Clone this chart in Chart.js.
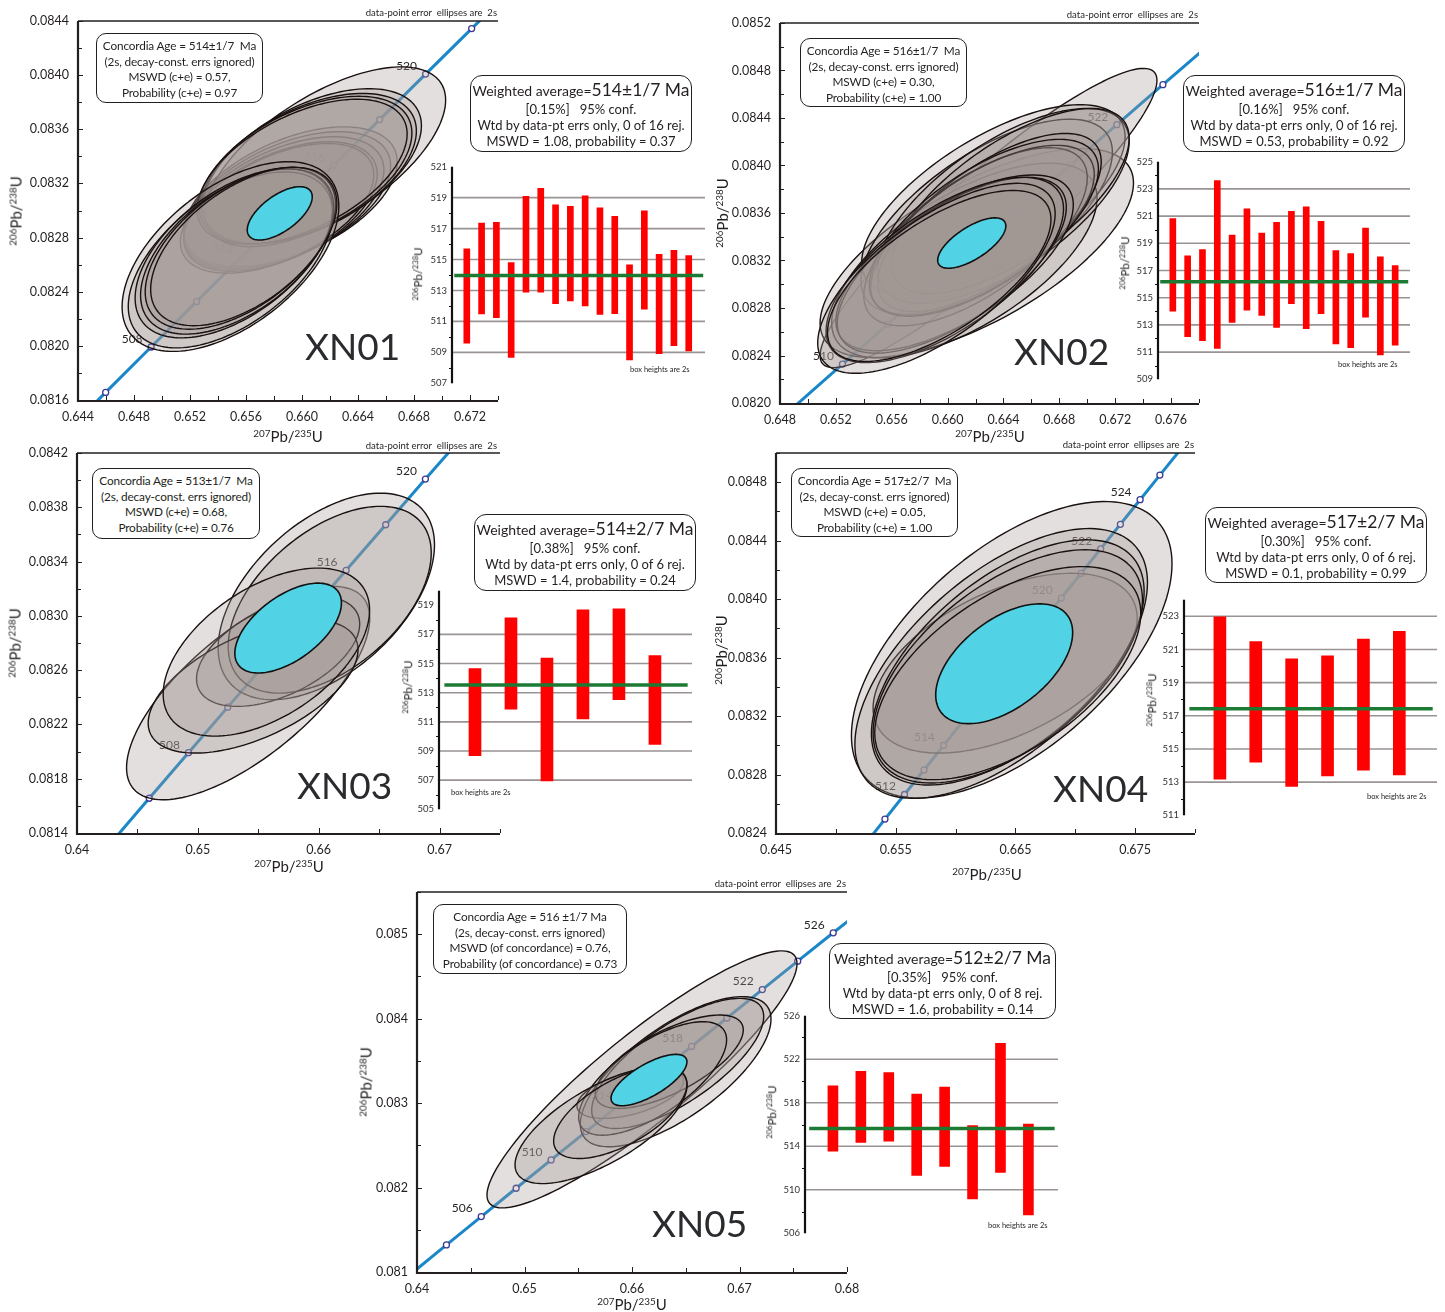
<!DOCTYPE html>
<html lang="en">
<head>
<meta charset="utf-8">
<title>U–Pb concordia and weighted-average diagrams, XN01–XN05</title>
<script src="https://cdn.jsdelivr.net/npm/chart.js@4.4.1/dist/chart.umd.min.js"></script>
<style>
  html, body { margin:0; padding:0; background:#fff; }
  body { position:relative; width:1445px; height:1312px; overflow:hidden;
         font-family: Lato, "Open Sans", "DejaVu Sans", sans-serif; color:#231f20; }
  canvas { position:absolute; }
  .t { position:absolute; white-space:nowrap; line-height:1; }
  .box { position:absolute; box-sizing:border-box; border:1.4px solid #231f20; border-radius:10px;
         background:#fff; text-align:center; white-space:pre; }
  .sup { font-size:0.66em; position:relative; top:-0.5em; }
</style>
</head>
<body>
<script>
// ---------- decay constants (per Myr) ----------
const L238 = 1.55125e-4;
const L235 = 9.8485e-4;
const r68 = t => Math.expm1(L238 * t);
const r75 = t => Math.expm1(L235 * t);

// ---------- concordia axis tick labels ----------
const xTicks01 = ['0.644','0.648','0.652','0.656','0.660','0.664','0.668','0.672'];
const yTicks01 = ['0.0816','0.0820','0.0824','0.0828','0.0832','0.0836','0.0840','0.0844'];
const xTicks02 = ['0.648','0.652','0.656','0.660','0.664','0.668','0.672','0.676'];
const yTicks02 = ['0.0820','0.0824','0.0828','0.0832','0.0836','0.0840','0.0844','0.0848','0.0852'];
const xTicks03 = ['0.64','0.65','0.66','0.67'];
const yTicks03 = ['0.0814','0.0818','0.0822','0.0826','0.0830','0.0834','0.0838','0.0842'];
const xTicks04 = ['0.645','0.655','0.665','0.675'];
const yTicks04 = ['0.0824','0.0828','0.0832','0.0836','0.0840','0.0844','0.0848'];
const xTicks05 = ['0.64','0.65','0.66','0.67','0.68'];
const yTicks05 = ['0.081','0.082','0.083','0.084','0.085'];

// ---------- concordia age markers (Ma) and labelled ages ----------
const curveEnds = [495, 535];
const ages01 = [506,508,510,512,514,516,518,520,522];
const ageLabels01 = [508,512,516,520];
const ages02 = [510,512,514,516,518,520,522,524];
const ageLabels02 = [510,514,518,522];
const ages03 = [506,508,510,512,514,516,518,520];
const ageLabels03 = [508,516,520];
const ages04 = [511,512,513,514,515,516,517,518,519,520,521,522,523,524,525];
const ageLabels04 = [512,514,516,518,520,522,524];
const ages05 = [504,506,508,510,512,514,516,518,520,522,524,526];
const ageLabels05 = [506,510,514,518,522,526];

// ---------- analyses: [207Pb/235U, 2s, 206Pb/238U, 2s, rho] ----------
const ell01 = [
  [0.65918,0.00762,0.083102,0.000516,0.50],
  [0.65894,0.00739,0.083078,0.000504,0.50],
  [0.65870,0.00715,0.083053,0.000492,0.50],
  [0.65846,0.00691,0.083029,0.000479,0.50],
  [0.65822,0.00691,0.083016,0.000479,0.52],
  [0.66168,0.00858,0.083397,0.000664,0.63],
  [0.66073,0.00780,0.083330,0.000570,0.52],
  [0.66049,0.00768,0.083310,0.000555,0.50],
  [0.66025,0.00760,0.083299,0.000545,0.50],
  [0.66001,0.00750,0.083287,0.000535,0.52],
  [0.65489,0.00774,0.082660,0.000701,0.53],
  [0.65489,0.00730,0.082635,0.000650,0.53],
  [0.65513,0.00705,0.082684,0.000625,0.53],
  [0.65537,0.00690,0.082697,0.000610,0.53],
  [0.65560,0.00680,0.082721,0.000598,0.54],
  [0.65584,0.00665,0.082734,0.000585,0.54]
];
const mean01 = [0.65841,0.00232,0.082979,0.000197,0.62];

const ell02 = [
  [0.66293,0.01206,0.083558,0.00126,0.92],
  [0.66209,0.01122,0.083263,0.00088,0.67],
  [0.66328,0.00943,0.083712,0.00080,0.66],
  [0.66280,0.00900,0.083570,0.00082,0.66],
  [0.66120,0.00950,0.083200,0.00082,0.64],
  [0.66400,0.00900,0.083660,0.00082,0.66],
  [0.66450,0.00850,0.083700,0.00078,0.68],
  [0.66300,0.00800,0.083520,0.00075,0.68],
  [0.66200,0.00800,0.083400,0.00075,0.66],
  [0.66250,0.00800,0.083450,0.00072,0.66],
  [0.66260,0.00820,0.083480,0.00074,0.66],
  [0.66050,0.00850,0.083180,0.00074,0.66],
  [0.66030,0.00820,0.083160,0.00074,0.66],
  [0.65980,0.00850,0.083120,0.00078,0.66],
  [0.65920,0.00850,0.083050,0.00080,0.68],
  [0.65940,0.00800,0.083070,0.00072,0.66]
];
const mean02 = [0.66173,0.00244,0.083347,0.000212,0.68];

const ell03 = [
  [0.65416,0.01006,0.082431,0.000786,0.70],
  [0.66063,0.00895,0.083143,0.000761,0.50],
  [0.66091,0.00840,0.083119,0.000688,0.50],
  [0.65664,0.00675,0.082738,0.000405,0.50],
  [0.65457,0.00868,0.082480,0.000491,0.55],
  [0.65567,0.00854,0.082733,0.000619,0.50]
];
const mean03 = [0.65747,0.00441,0.082910,0.000331,0.56];

const ell04 = [
  [0.66469,0.01339,0.083654,0.001014,0.58],
  [0.66414,0.01103,0.083562,0.000615,0.50],
  [0.66381,0.01222,0.083560,0.000923,0.60],
  [0.66436,0.01139,0.083567,0.000839,0.58],
  [0.66436,0.01125,0.083540,0.000798,0.57],
  [0.66436,0.01111,0.083494,0.000729,0.56]
];
const mean04 = [0.66406,0.00572,0.083558,0.000410,0.52];

const ell05 = [
  [0.66093,0.01442,0.083281,0.001522,0.90],
  [0.65984,0.00496,0.083115,0.000296,0.50],
  [0.66406,0.00887,0.083372,0.000889,0.70],
  [0.66425,0.00800,0.083470,0.000771,0.72],
  [0.66347,0.00688,0.083490,0.000553,0.68],
  [0.66192,0.00688,0.083292,0.000672,0.68],
  [0.65712,0.00800,0.082739,0.000692,0.68],
  [0.65891,0.00620,0.082889,0.000545,0.62]
];
const mean05 = [0.66158,0.00353,0.083273,0.000304,0.71];

// ---------- 206Pb/238U ages (Ma) with 2s, weighted means ----------
const bar01 = [512.64,514.42,514.33,511.74,515.99,516.25,515.34,515.38,515.56,514.90,514.65,511.58,514.97,512.12,512.52,512.18];
const err01 = [3.05,2.94,3.08,3.06,3.10,3.36,3.19,3.06,3.56,3.44,3.15,3.07,3.18,3.21,3.08,3.08];
const wmean01 = 513.96;
const bar02 = [517.41,515.10,515.19,517.44,516.39,517.81,516.72,516.68,517.96,517.20,517.22,515.03,514.78,516.84,514.40,514.44];
const err02 = [3.40,2.97,3.35,6.17,3.21,3.72,3.03,3.87,3.39,4.48,3.39,3.43,3.46,3.27,3.61,2.93];
const wmean02 = 516.17;
const bar03 = [511.67,515.00,511.16,514.95,515.64,512.50];
const err03 = [2.99,3.13,4.22,3.74,3.11,3.04];
const wmean03 = 513.53;
const bar04 = [518.07,517.84,516.59,516.99,517.67,517.76];
const err04 = [4.89,3.63,3.85,3.62,3.95,4.33];
const wmean04 = 517.42;
const bar05 = [516.55,517.62,517.62,515.06,515.79,512.54,517.53,511.86];
const err05 = [3.01,3.27,3.15,3.73,3.65,3.37,5.93,4.18];
const wmean05 = 515.64;

// ---------- weighted-average axis ticks and grid lines ----------
const wTicks01 = [507,509,511,513,515,517,519,521];
const wGrid01  = [509,511,513,515,517,519];
const wTicks02 = [509,511,513,515,517,519,521,523,525];
const wGrid02  = [511,513,515,517,519,521,523];
const wTicks03 = [505,507,509,511,513,515,517,519];
const wGrid03  = [507,509,511,513,515,517];
const wTicks04 = [511,513,515,517,519,521,523];
const wGrid04  = [513,515,517,519,521,523];
const wTicks05 = [506,510,514,518,522,526];
const wGrid05  = [510,514,518,522];

// ---------- annotation text ----------
const conc01 = ['Concordia Age = 514±1/7  Ma','(2s, decay-const. errs ignored)','MSWD (c+e) = 0.57,','Probability (c+e) = 0.97'];
const conc02 = ['Concordia Age = 516±1/7  Ma','(2s, decay-const. errs ignored)','MSWD (c+e) = 0.30,','Probability (c+e) = 1.00'];
const conc03 = ['Concordia Age = 513±1/7  Ma','(2s, decay-const. errs ignored)','MSWD (c+e) = 0.68,','Probability (c+e) = 0.76'];
const conc04 = ['Concordia Age = 517±2/7  Ma','(2s, decay-const. errs ignored)','MSWD (c+e) = 0.05,','Probability (c+e) = 1.00'];
const conc05 = ['Concordia Age = 516 ±1/7 Ma','(2s, decay-const. errs ignored)','MSWD (of concordance) = 0.76,','Probability (of concordance) = 0.73'];
const wavg01 = ['514±1/7 Ma','[0.15%]   95% conf.','Wtd by data-pt errs only, 0 of 16 rej.','MSWD = 1.08, probability = 0.37'];
const wavg02 = ['516±1/7 Ma','[0.16%]   95% conf.','Wtd by data-pt errs only, 0 of 16 rej.','MSWD = 0.53, probability = 0.92'];
const wavg03 = ['514±2/7 Ma','[0.38%]   95% conf.','Wtd by data-pt errs only, 0 of 6 rej.','MSWD = 1.4, probability = 0.24'];
const wavg04 = ['517±2/7 Ma','[0.30%]   95% conf.','Wtd by data-pt errs only, 0 of 6 rej.','MSWD = 0.1, probability = 0.99'];
const wavg05 = ['512±2/7 Ma','[0.35%]   95% conf.','Wtd by data-pt errs only, 0 of 8 rej.','MSWD = 1.6, probability = 0.14'];

// ---------- layout ----------
const concordiaPanels = [
  {name:'XN01', plot:[78,498,21,400], x:[0.644,0.674,0.002], y:[0.0816,0.0844,0.0002],
   xTicks:xTicks01, yTicks:yTicks01, markers:ages01, labels:ageLabels01, ell:ell01, mean:mean01,
   xTitle:[288,436], yTitle:[16,211], nameAt:[305,333], caption:[497,13], box:[96,33,167,70], lines:conc01},
  {name:'XN02', plot:[780,1199,23,403], x:[0.648,0.678,0.002], y:[0.0820,0.0852,0.0002],
   xTicks:xTicks02, yTicks:yTicks02, markers:ages02, labels:ageLabels02, ell:ell02, mean:mean02,
   xTitle:[990,436], yTitle:[722,213], nameAt:[1014,338], caption:[1198,15], box:[800,38,167,69], lines:conc02},
  {name:'XN03', plot:[77,500,453,833], x:[0.64,0.675,0.005], y:[0.0814,0.0842,0.0002],
   xTicks:xTicks03, yTicks:yTicks03, markers:ages03, labels:ageLabels03, ell:ell03, mean:mean03,
   xTitle:[289,866], yTitle:[15,643], nameAt:[297,772], caption:[497,446], box:[92,468,168,71], lines:conc03},
  {name:'XN04', plot:[776,1195,453,833], x:[0.645,0.680,0.005], y:[0.0824,0.0850,0.0002],
   xTicks:xTicks04, yTicks:yTicks04, markers:ages04, labels:ageLabels04, ell:ell04, mean:mean04,
   xTitle:[987,874], yTitle:[721,650], nameAt:[1053,775], caption:[1194,445], box:[791,468,167,69], lines:conc04},
  {name:'XN05', plot:[417,847,892,1272], x:[0.64,0.68,0.005], y:[0.081,0.0855,0.0005],
   xTicks:xTicks05, yTicks:yTicks05, markers:ages05, labels:ageLabels05, ell:ell05, mean:mean05,
   xTitle:[632,1304], yTitle:[366,1082], nameAt:[652,1210], caption:[846,884], box:[433,904,194,70], lines:conc05}
];

const insetPanels = [
  {axisX:452, gridEnd:705, top:164, bottom:386, y:[507,521], xMax:17.1, barW:6,
   ticks:wTicks01, grid:wGrid01, ages:bar01, errs:err01, mean:wmean01,
   title:[418,274], note:[630,370], box:[470,75,222,77], lines:wavg01},
  {axisX:1158, gridEnd:1410, top:159, bottom:382, y:[509,525], xMax:17, barW:6,
   ticks:wTicks02, grid:wGrid02, ages:bar02, errs:err02, mean:wmean02,
   title:[1125,263], note:[1338,365], box:[1183,75,222,77], lines:wavg02},
  {axisX:439, gridEnd:692, top:588, bottom:812, y:[505,520], xMax:7.03, barW:12,
   ticks:wTicks03, grid:wGrid03, ages:bar03, errs:err03, mean:wmean03,
   title:[408,687], note:[451,793], box:[474,514,222,77], lines:wavg03},
  {axisX:1184, gridEnd:1437, top:597, bottom:818, y:[511,524], xMax:7.05, barW:12,
   ticks:wTicks04, grid:wGrid04, ages:bar04, errs:err04, mean:wmean04,
   title:[1152,700], note:[1367,797], box:[1205,507,222,76], lines:wavg04},
  {axisX:805, gridEnd:1058, top:1013, bottom:1236, y:[506,526], xMax:9.06, barW:10,
   ticks:wTicks05, grid:wGrid05, ages:bar05, errs:err05, mean:wmean05,
   title:[772,1112], note:[988,1226], box:[829,943,227,76], lines:wavg05}
];

const INK = '#231f20';
const ELLIPSE_FILL = 'rgba(163,152,150,0.31)';
Chart.defaults.font.family = 'Lato, "Open Sans", sans-serif';

// ---------- helpers ----------
function addCanvas(l, t, w, h) {
  const c = document.createElement('canvas');
  c.width = w; c.height = h;
  c.style.left = l + 'px'; c.style.top = t + 'px';
  c.style.width = w + 'px'; c.style.height = h + 'px';
  document.body.appendChild(c);
  return c;
}
function addDiv(cls, html, css) {
  const d = document.createElement('div');
  d.className = cls; d.innerHTML = html;
  Object.assign(d.style, css);
  document.body.appendChild(d);
  return d;
}
const ratioTitle = (a, b) => `<span class="sup">${a}</span>Pb/<span class="sup">${b}</span>U`;

function ellipsePath(ctx, xs, ys, e) {
  const [x0, sx, y0, sy, rho] = e;
  const q = Math.sqrt(1 - rho * rho);
  ctx.beginPath();
  for (let k = 0; k <= 144; k++) {
    const t = k / 144 * 2 * Math.PI;
    const px = xs.getPixelForValue(x0 + sx * Math.cos(t));
    const py = ys.getPixelForValue(y0 + sy * (rho * Math.cos(t) + q * Math.sin(t)));
    if (k === 0) ctx.moveTo(px, py); else ctx.lineTo(px, py);
  }
  ctx.closePath();
}

// ---------- concordia diagram ----------
function makeConcordia(p) {
  const [pl, pr, pt, pb] = p.plot;
  const cl = pl - 74, ct = pt - 22, cr = pr + 22, cb = pb + 32;
  const cv = addCanvas(cl, ct, cr - cl, cb - ct);
  const curve = [curveEnds[0], ...p.markers, curveEnds[1]];

  const decor = {
    id: 'decor_' + p.name,
    afterDatasetsDraw(chart) {
      const {ctx, chartArea: a, scales: {x, y}} = chart;
      ctx.save();
      ctx.beginPath(); ctx.rect(a.left, a.top, a.right - a.left, a.bottom - a.top); ctx.clip();
      // age labels along the concordia
      ctx.fillStyle = INK; ctx.font = '12px Lato, sans-serif';
      ctx.textAlign = 'center'; ctx.textBaseline = 'middle';
      p.labels.forEach(t => {
        ctx.fillText(String(t), x.getPixelForValue(r75(t)) - 19, y.getPixelForValue(r68(t)) - 8);
      });
      // data-point error ellipses
      ctx.lineJoin = 'round';
      p.ell.forEach(e => {
        ellipsePath(ctx, x, y, e);
        ctx.fillStyle = ELLIPSE_FILL; ctx.fill();
        ctx.strokeStyle = '#1a1111'; ctx.lineWidth = 1.4; ctx.stroke();
      });
      // concordia-age ellipse
      ellipsePath(ctx, x, y, p.mean);
      ctx.fillStyle = '#52d3e5'; ctx.fill();
      ctx.strokeStyle = '#111'; ctx.lineWidth = 1.6; ctx.stroke();
      ctx.restore();
    },
    afterDraw(chart) {
      const {ctx, chartArea: a, scales: {x, y}} = chart;
      ctx.save();
      ctx.strokeStyle = INK; ctx.lineWidth = 1;
      const nx = Math.round((p.x[1] - p.x[0]) / p.x[2]);
      for (let i = 0; i <= nx; i++) {
        const v = p.x[0] + i * p.x[2];
        const major = p.xTicks.some(s => Math.abs(+s - v) < 1e-7);
        const px = Math.round(x.getPixelForValue(v)) + 0.5;
        ctx.beginPath(); ctx.moveTo(px, a.bottom); ctx.lineTo(px, a.bottom - (major ? 5 : 4)); ctx.stroke();
      }
      const ny = Math.round((p.y[1] - p.y[0]) / p.y[2]);
      for (let i = 0; i <= ny; i++) {
        const v = p.y[0] + i * p.y[2];
        const major = p.yTicks.some(s => Math.abs(+s - v) < 1e-8);
        const py = Math.round(y.getPixelForValue(v)) + 0.5;
        ctx.beginPath(); ctx.moveTo(a.left, py); ctx.lineTo(a.left + (major ? 5 : 4), py); ctx.stroke();
      }
      ctx.lineWidth = 2.2;
      ctx.beginPath(); ctx.moveTo(a.left, a.top); ctx.lineTo(a.left, a.bottom + 1);
      ctx.lineTo(a.right, a.bottom + 1); ctx.stroke();
      ctx.lineWidth = 1.4;
      ctx.beginPath(); ctx.moveTo(a.left, a.top); ctx.lineTo(a.right, a.top); ctx.stroke();
      ctx.restore();
    }
  };

  const tickFont = {family: 'Lato, sans-serif', size: 12.5};
  new Chart(cv, {
    type: 'scatter',
    data: {
      datasets: [
        {type: 'line', data: curve.map(t => ({x: r75(t), y: r68(t)})), borderColor: '#1a87c8',
         borderWidth: 3, pointRadius: 0, tension: 0, order: 2},
        {type: 'scatter', data: p.markers.map(t => ({x: r75(t), y: r68(t)})), pointRadius: 3,
         pointBorderWidth: 1.3, borderColor: '#3a3a94', backgroundColor: '#ffffff', order: 1}
      ]
    },
    options: {
      responsive: false, animation: false, devicePixelRatio: 1, events: [],
      layout: {padding: {top: pt - ct, right: cr - pr, left: 0, bottom: 0}},
      plugins: {legend: {display: false}, tooltip: {enabled: false}},
      scales: {
        x: {type: 'linear', min: p.x[0], max: p.x[1],
            afterFit: s => { s.height = cb - pb; },
            afterBuildTicks: s => { s.ticks = p.xTicks.map(v => ({value: +v})); },
            ticks: {callback: (v, i) => p.xTicks[i], autoSkip: false, maxRotation: 0, padding: 9,
                    font: tickFont, color: INK},
            grid: {display: false, drawTicks: false}, border: {display: false}},
        y: {type: 'linear', min: p.y[0], max: p.y[1],
            afterFit: s => { s.width = pl - cl; },
            afterBuildTicks: s => { s.ticks = p.yTicks.map(v => ({value: +v})); },
            ticks: {callback: (v, i) => p.yTicks[i], autoSkip: false, padding: 9,
                    font: tickFont, color: INK},
            grid: {display: false, drawTicks: false}, border: {display: false}}
      }
    },
    plugins: [decor]
  });

  // titles and annotations
  addDiv('t', ratioTitle(207, 235), {left: p.xTitle[0] + 'px', top: p.xTitle[1] + 'px',
    fontSize: '15px', transform: 'translate(-50%,-50%)'});
  addDiv('t', ratioTitle(206, 238), {left: p.yTitle[0] + 'px', top: p.yTitle[1] + 'px',
    fontSize: '15px', transform: 'translate(-50%,-50%) rotate(-90deg)'});
  addDiv('t', p.name, {left: p.nameAt[0] + 'px', top: (p.nameAt[1] - 6) + 'px',
    fontSize: '37px', color: '#2a2b2e'});
  addDiv('t', 'data-point error  ellipses are  2s', {left: (p.caption[0] - 300) + 'px', width: '300px',
    textAlign: 'right', top: (p.caption[1] - 5) + 'px', fontSize: '9.5px', whiteSpace: 'pre'});
  const b = p.box;
  addDiv('box', p.lines.join('\n'), {left: b[0] + 'px', top: b[1] + 'px', width: b[2] + 'px', height: b[3] + 'px',
    fontSize: '11.8px', letterSpacing: '-0.15px', lineHeight: '15.5px', paddingTop: '4px'});
}

// ---------- weighted-average inset ----------
function makeInset(q, idx) {
  const cl = q.axisX - 42, cr = q.gridEnd + 4, ct = q.top - 8, cb = q.bottom + 8;
  const cv = addCanvas(cl, ct, cr - cl, cb - ct);
  const decor = {
    id: 'wavg_' + idx,
    beforeDatasetsDraw(chart) {
      const {ctx, chartArea: a, scales: {y}} = chart;
      ctx.save();
      ctx.strokeStyle = '#9a9393'; ctx.lineWidth = 1.6;
      q.grid.forEach(v => {
        const py = y.getPixelForValue(v);
        ctx.beginPath(); ctx.moveTo(a.left, py); ctx.lineTo(a.right, py); ctx.stroke();
      });
      ctx.restore();
    },
    afterDraw(chart) {
      const {ctx, chartArea: a, scales: {y}} = chart;
      ctx.save();
      ctx.strokeStyle = '#111'; ctx.lineWidth = 1;
      for (let i = 0; i < q.ticks.length - 1; i++) {
        const py = Math.round(y.getPixelForValue((q.ticks[i] + q.ticks[i + 1]) / 2)) + 0.5;
        ctx.beginPath(); ctx.moveTo(a.left - 3, py); ctx.lineTo(a.left, py); ctx.stroke();
      }
      ctx.lineWidth = 2.2;
      ctx.beginPath(); ctx.moveTo(a.left, a.top); ctx.lineTo(a.left, a.bottom); ctx.stroke();
      ctx.restore();
    }
  };
  new Chart(cv, {
    type: 'bar',
    data: {
      datasets: [
        {type: 'line', data: [{x: 0.15, y: q.mean}, {x: q.xMax - 0.12, y: q.mean}],
         borderColor: '#1d7a32', borderWidth: 3.5, pointRadius: 0, order: 0},
        {type: 'bar', data: q.ages.map((a, i) => ({x: i + 1, y: [a - q.errs[i], a + q.errs[i]]})),
         backgroundColor: '#ff0000', borderWidth: 0, barThickness: q.barW, order: 1}
      ]
    },
    options: {
      responsive: false, animation: false, devicePixelRatio: 1, events: [],
      layout: {padding: {top: 8, bottom: 8, right: 4, left: 0}},
      plugins: {legend: {display: false}, tooltip: {enabled: false}},
      scales: {
        x: {type: 'linear', min: 0, max: q.xMax, offset: false, display: false},
        y: {type: 'linear', min: q.y[0], max: q.y[1],
            afterFit: s => { s.width = q.axisX - cl; },
            afterBuildTicks: s => { s.ticks = q.ticks.map(v => ({value: v})); },
            ticks: {autoSkip: false, padding: 5, font: {family: 'Lato, sans-serif', size: 9.5}, color: '#333'},
            grid: {display: false, drawTicks: false}, border: {display: false}}
      }
    },
    plugins: [decor]
  });

  addDiv('t', ratioTitle(206, 238), {left: q.title[0] + 'px', top: q.title[1] + 'px',
    fontSize: '11.5px', transform: 'translate(-50%,-50%) rotate(-90deg)'});
  addDiv('t', 'box heights are 2s', {left: q.note[0] + 'px', top: (q.note[1] - 4) + 'px', fontSize: '7.5px'});
  const b = q.box;
  const box = addDiv('box', '', {left: b[0] + 'px', top: b[1] + 'px', width: b[2] + 'px', height: b[3] + 'px',
    paddingTop: '4px', borderRadius: '12px'});
  box.innerHTML =
    `<div style="line-height:20px;font-size:14px">Weighted average=<span style="font-size:17.5px">${q.lines[0]}</span></div>` +
    q.lines.slice(1).map(s => `<div style="line-height:16px;font-size:13px">${s}</div>`).join('');
}

concordiaPanels.forEach(makeConcordia);
insetPanels.forEach(makeInset);
</script>
</body>
</html>
